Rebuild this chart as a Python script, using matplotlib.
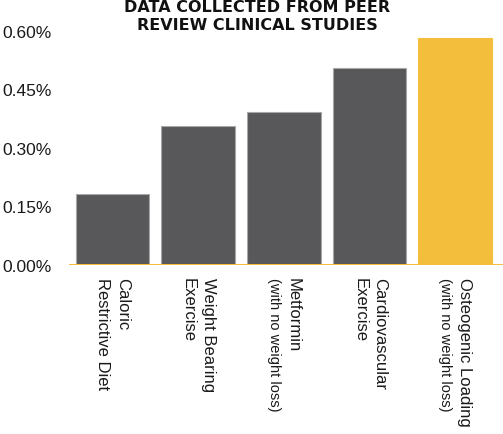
import matplotlib
matplotlib.use("Agg")
import matplotlib.pyplot as plt
from matplotlib.transforms import blended_transform_factory, ScaledTranslation

categories = ["Caloric Restrictive Diet", "Weight Bearing Exercise", "Metformin",
              "Cardiovascular Exercise", "Osteogenic Loading"]
label_main = [["Caloric", "Restrictive Diet"], ["Weight Bearing", "Exercise"],
              ["Metformin"], ["Cardiovascular", "Exercise"], ["Osteogenic Loading"]]
label_sub = [None, None, "(with no weight loss)", None, "(with no weight loss)"]
values = [0.182, 0.356, 0.392, 0.505, 0.582]
yticks = [0.0, 0.15, 0.30, 0.45, 0.60]

DARK = "#58585a"
YELLOW = "#f2be3b"
colors = [DARK, DARK, DARK, DARK, YELLOW]
edges = ["#a8a8a8", "#a8a8a8", "#a8a8a8", "#a8a8a8", YELLOW]

W, H = 503, 435
fig = plt.figure(figsize=(W / 100, H / 100), dpi=100)
ax = fig.add_axes([69 / W, 1 - 266 / H, (503 - 69) / W, (266 - 32) / H])

x = list(range(len(categories)))
ax.bar(x, values, width=0.86, color=colors, edgecolor=edges, linewidth=0.8, zorder=2)
ax.axhline(0, color=YELLOW, lw=2.2, zorder=3)
ax.set_xlim(-0.51, 4.56)
ax.set_ylim(0, 0.60)
ax.set_yticks(yticks)
ax.set_yticklabels([f"{v:.2f}%" for v in yticks], fontfamily="Liberation Sans",
                   fontsize=12.5, color="#1a1a1a", ha="left")
ax.tick_params(axis="y", length=0, pad=48)
ax.set_xticks([])
for s in ax.spines.values():
    s.set_visible(False)

trans = blended_transform_factory(ax.transData, ax.transAxes)
for i in x:
    lines = [(t, 12) for t in label_main[i]]
    if label_sub[i]:
        lines.append((label_sub[i], 10.5))
    n = len(lines)
    spacing = 19.5
    for j, (t, fs) in enumerate(lines):
        off_px = (n - 1) / 2 * spacing - j * spacing
        tr = trans + ScaledTranslation(off_px / 100, -12 / 100, fig.dpi_scale_trans)
        ax.text(i, 0, t, rotation=270, ha="center", va="top", fontsize=fs,
                fontfamily="Liberation Sans", color="#1a1a1a", transform=tr)

fig.text(257 / W, 1 - 8 / H, "DATA COLLECTED FROM PEER", ha="center", va="center",
         fontsize=11.5, fontweight="bold", fontfamily="DejaVu Sans", color="#111111")
fig.text(257 / W, 1 - 26 / H, "REVIEW CLINICAL STUDIES", ha="center", va="center",
         fontsize=11.5, fontweight="bold", fontfamily="DejaVu Sans", color="#111111")

fig.savefig("out.png", dpi=100)
